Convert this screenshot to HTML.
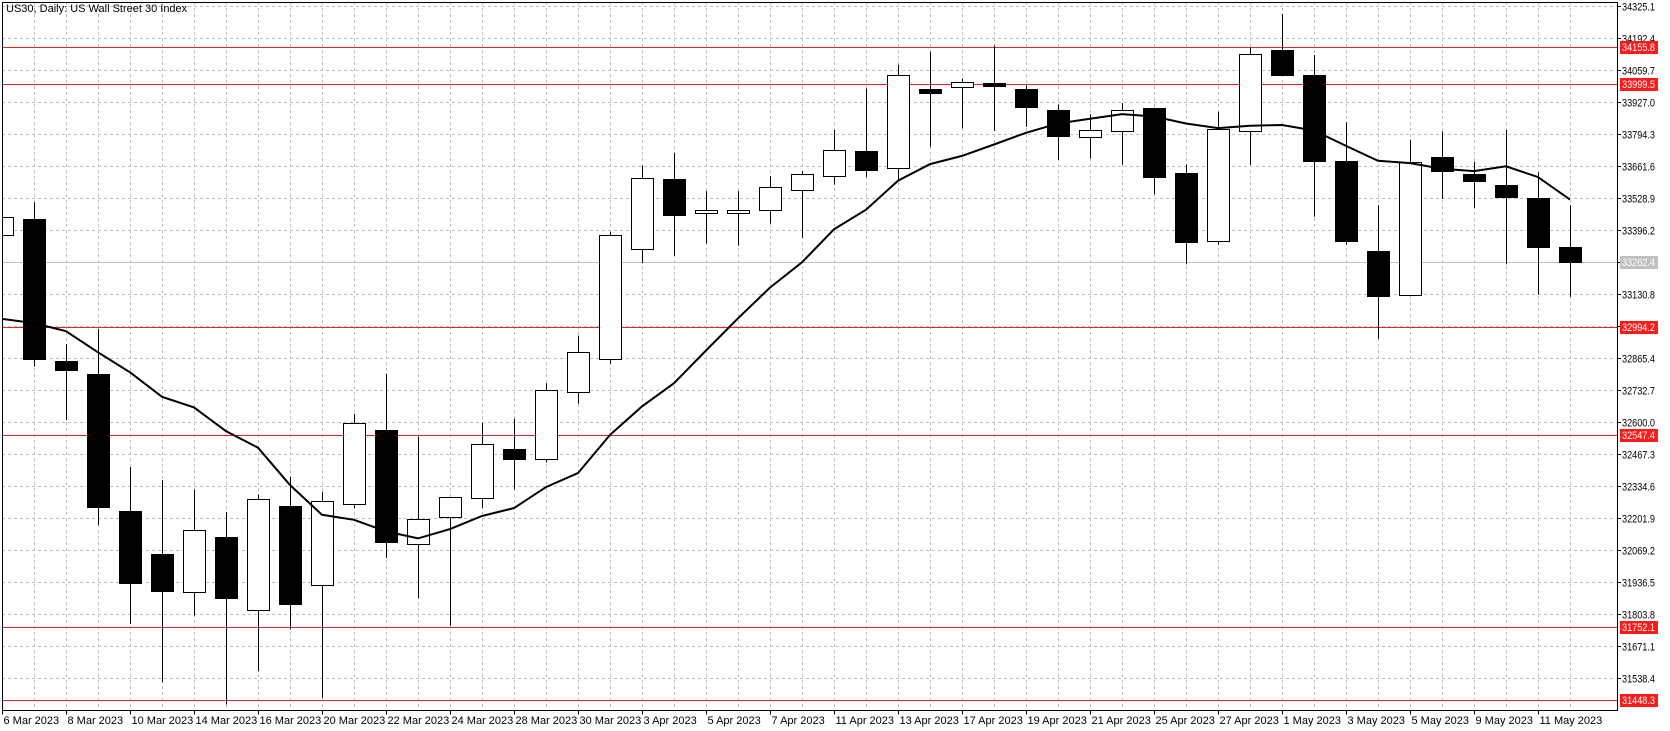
<!DOCTYPE html>
<html><head><meta charset="utf-8">
<style>
html,body{margin:0;padding:0;background:#fff;overflow:hidden;}
svg{display:block;}
text{font-family:"Liberation Sans","DejaVu Sans",sans-serif;font-size:11px;}
</style></head>
<body>
<svg id="c" width="1670" height="731" xmlns="http://www.w3.org/2000/svg"></svg>
<script>
const W=1670,H=731,L=2,R=1617,T=2,B=710.5;
const yp=p=>5.7+(34325.1-p)*0.2414;
const xc=i=>2+32*i;
let s='';
for(let k=0;k<22;k++){const y=Math.round(yp(34325.1-k*132.7))+0.5;if(y>T&&y<B)s+=`<line x1="${L}" x2="${R}" y1="${y}" y2="${y}" stroke="#c0c0c0" stroke-dasharray="3,3"/>`;}
for(let i=1;i<50;i++){const x=xc(i)+0.5;s+=`<line x1="${x}" x2="${x}" y1="${T}" y2="${B}" stroke="#c0c0c0" stroke-dasharray="3,3"/>`;}
s+=`<line x1="${L}" x2="${R}" y1="${Math.round(yp(33262.4))+0.5}" y2="${Math.round(yp(33262.4))+0.5}" stroke="#c0c0c0"/>`;
const reds=[34155.8,33999.5,32994.2,32547.4,31752.1,31448.3];
reds.forEach(p=>{const y=Math.round(yp(p))+0.5;s+=`<line x1="${L}" x2="${R}" y1="${y}" y2="${y}" stroke="#e8232a"/>`;});
const d=[
[33374,33470,33360,33449],
[33440.7,33510.5,32829.9,32863.3],
[32853.1,32922.9,32608.8,32816.8],
[32799.3,32985.5,32172.5,32246.7],
[32232.1,32414.0,31763.9,31935.5],
[32054.7,32360.1,31522.5,31899.1],
[31898,32320.9,31798.8,32152.2],
[32124.5,32227.8,31430.9,31870.0],
[31820.6,32300.5,31567.5,32280.1],
[32252.5,32373.2,31740.6,31848.2],
[31925.3,32311.5,31458,32274.8],
[32261.3,32634.0,32243.9,32597.3],
[32566.4,32800.1,32037.3,32103],
[32095.2,32539.4,31871.2,32199.5],
[32207.2,32288,31757,32288.3],
[32286.4,32597.3,32244,32508.5],
[32489.1,32614.7,32321.2,32446.7],
[32446.7,32761.5,32433,32732.5],
[32724.8,32958.5,32676.5,32889],
[32860,33389.1,32840.7,33373.7],
[33315.7,33663.3,33257.8,33609.3],
[33607.3,33715.5,33288.7,33456.7],
[33468.3,33557.1,33338.9,33478],
[33468.3,33557.1,33331,33478],
[33478,33619,33422,33572.6],
[33561,33640,33364,33626.7],
[33618.9,33810,33584,33729],
[33721.3,33982,33615,33644],
[33651.8,34080.5,33605.4,34036],
[33982,34134.6,33740.6,33962.7],
[33987.8,34024.5,33817.8,34007],
[34003,34159.7,33806,33991.6],
[33980,33995.5,33823.6,33906.7],
[33895,33916,33686.5,33787],
[33781.2,33875.8,33692.3,33812],
[33804.3,33922,33667,33891.2],
[33902.8,33903,33543.6,33617],
[33630.5,33667.2,33253.9,33344.7],
[33352.4,33885.5,33335,33815.9],
[33804.3,34152,33665.3,34123],
[34140.4,34291,34034,34040],
[34038,34121,33451,33680.7],
[33680.7,33843,33335,33348.6],
[33308,33499.2,32945,33124.5],
[33128.4,33769.6,33124.5,33676.9],
[33700,33804.3,33524.3,33642],
[33628.6,33678.8,33487.6,33597.7],
[33584,33810,33253.9,33534],
[33530,33634.4,33128.4,33323.5],
[33323.5,33499.2,33118.8,33261.6]];
const ma=[33027.6,33010.2,32976.7,32889.5,32806.6,32704.8,32661.2,32562.3,32494,32339.8,32216,32195.6,32147.5,32118.5,32157,32211,32244,32331,32388.8,32547,32665,32761.5,32896.7,33030,33157.4,33262,33399,33480,33600,33669,33703,33750,33798.5,33837,33856.5,33876,33866,33837,33818,33827.5,33831,33808,33744.5,33682.7,33673,33650,33640,33660,33615,33522];
let cs='';
d.forEach((c,i)=>{const [o,h,l,cl]=c;const x=xc(i)+0.5;
 const top=Math.round(yp(Math.max(o,cl)))+0.5,bot=Math.round(yp(Math.min(o,cl)))+0.5;
 cs+=`<line x1="${x}" x2="${x}" y1="${yp(h).toFixed(1)}" y2="${yp(l).toFixed(1)}" stroke="#000"/>`;
 const bh=Math.max(bot-top,1);
 if(cl>=o) cs+=`<rect x="${x-11}" y="${top}" width="22" height="${bh}" fill="#fff" stroke="#000"/>`;
 else cs+=`<rect x="${x-11}" y="${top}" width="22" height="${bh}" fill="#000" stroke="#000"/>`;
});
s+=`<g clip-path="url(#pc)">${cs}`;
s+=`<polyline fill="none" stroke="#000" stroke-width="2" points="${ma.map((p,i)=>xc(i)+','+yp(p).toFixed(1)).join(' ')}"/></g>`;
s='<defs><clipPath id="pc"><rect x="2" y="2" width="1615" height="708"/></clipPath></defs>'+s;
s+=`<rect x="${L+0.5}" y="${T+0.5}" width="${R-L}" height="${B-T-0.5}" fill="none" stroke="#000"/>`;
s+=`<text x="6" y="12">US30, Daily:  US Wall Street 30 Index</text>`;
const TL='textLength="33" lengthAdjust="spacingAndGlyphs"';
for(let k=0;k<22;k++){const p=34325.1-k*132.7;const y=Math.round(yp(p))+0.5;if(y>B)break;
 s+=`<line x1="${R}" x2="${R+4}" y1="${y}" y2="${y}" stroke="#000"/>`;
 s+=`<text x="${R+5}" y="${y+4}" ${TL}>${p.toFixed(1)}</text>`;}
const cy=Math.round(yp(33262.4));
s+=`<rect x="${R+3}" y="${cy-6}" width="38" height="13" fill="#c0c0c0"/><text x="${R+5}" y="${cy+4}" fill="#fff" ${TL}>33262.4</text>`;
reds.forEach(p=>{const y=Math.round(yp(p));s+=`<rect x="${R+3}" y="${y-6}" width="38" height="13" fill="#ff1a1a"/><text x="${R+5}" y="${y+4}" fill="#fff" ${TL}>${p.toFixed(1)}</text>`;});
const dl=['6 Mar 2023','8 Mar 2023','10 Mar 2023','14 Mar 2023','16 Mar 2023','20 Mar 2023','22 Mar 2023','24 Mar 2023','28 Mar 2023','30 Mar 2023','3 Apr 2023','5 Apr 2023','7 Apr 2023','11 Apr 2023','13 Apr 2023','17 Apr 2023','19 Apr 2023','21 Apr 2023','25 Apr 2023','27 Apr 2023','1 May 2023','3 May 2023','5 May 2023','9 May 2023','11 May 2023'];
dl.forEach((t,k)=>{const x=xc(2*k)+0.5;s+=`<line x1="${x}" x2="${x}" y1="${B}" y2="${B+4}" stroke="#000"/><text x="${x+1}" y="724">${t}</text>`;});
document.getElementById('c').innerHTML=s;
</script>
</body></html>
